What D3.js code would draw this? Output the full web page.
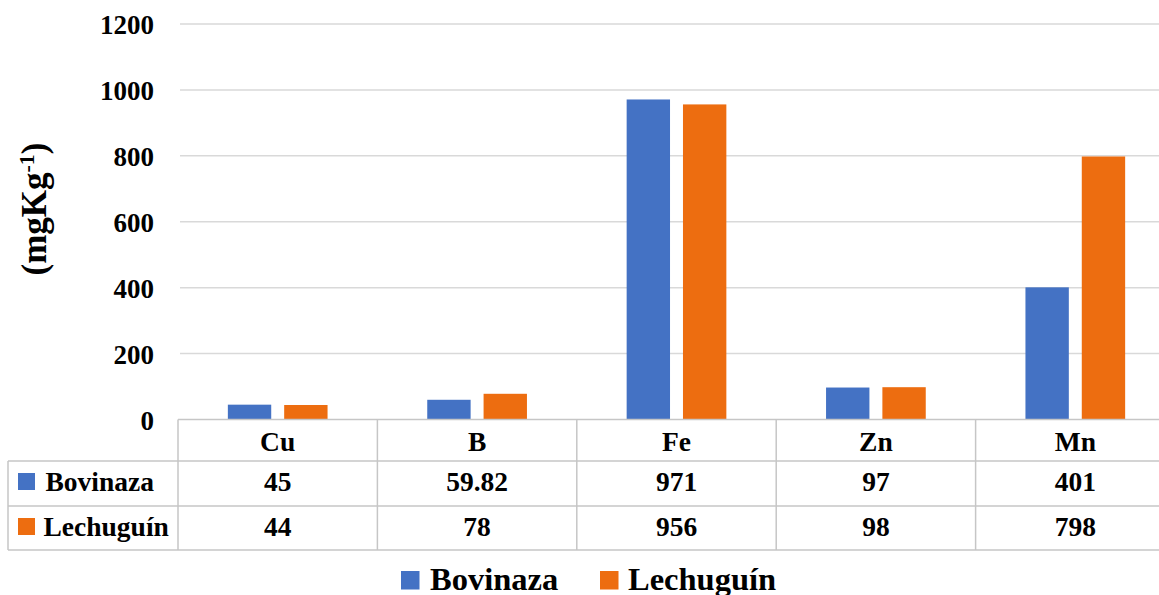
<!DOCTYPE html>
<html>
<head>
<meta charset="utf-8">
<script src="https://cdn.jsdelivr.net/npm/d3@7"></script>
<style>
  html, body { margin: 0; padding: 0; background: #fff; }
  svg { display: block; }
  text { font-family: "Liberation Serif", "Times New Roman", serif; font-weight: bold; fill: #000; }
</style>
</head>
<body>
<svg id="chart" width="1159" height="595"></svg>
<script>
// Micronutrient content (mg/kg) by element
const categories = ["Cu", "B", "Fe", "Zn", "Mn"];
const seriesNames = ["Bovinaza", "Lechuguín"];
const bovinaza = [45, 59.82, 971, 97, 401];
const lechuguin = [44, 78, 956, 98, 798];
const yTicks = [0, 200, 400, 600, 800, 1000, 1200];
const colors = ["#4472C4", "#ED6D10"];

const seriesValues = [bovinaza, lechuguin];

const svg = d3.select("#chart");
const W = 1159;

const plotLeft = 178, plotRight = 1175;
const yTop = 24, yBottom = 419.5;
const tableLeft = 8;
const rowTops = [419.5, 461, 506, 550];

const x0 = d3.scaleBand().domain(categories).range([plotLeft, plotRight]).paddingInner(0).paddingOuter(0);
const bw = x0.bandwidth();
const x1 = d3.scaleBand().domain(seriesNames).range([bw * 0.25, bw * 0.75]).paddingInner(0.23).paddingOuter(0);
const y = d3.scaleLinear().domain([0, 1200]).range([yBottom, yTop]);
const color = d3.scaleOrdinal().domain(seriesNames).range(colors);

// gridlines
svg.append("g")
  .selectAll("line")
  .data(yTicks.filter(d => d > 0))
  .join("line")
  .attr("x1", plotLeft + 2).attr("x2", W)
  .attr("y1", d => y(d)).attr("y2", d => y(d))
  .attr("stroke", "#d9d9d9").attr("stroke-width", 1.5);

// y axis labels
const yAxis = d3.axisLeft(y).tickValues(yTicks).tickSize(0).tickPadding(0).tickFormat(d3.format("d"));
const yg = svg.append("g").attr("transform", "translate(154,0)").call(yAxis);
yg.select(".domain").remove();
yg.selectAll("text")
  .attr("font-size", 27)
  .attr("font-family", "Liberation Serif, serif")
  .attr("font-weight", "bold")
  .attr("fill", "#000")
  .attr("dy", "0.36em");

// y axis title
const title = svg.append("text")
  .attr("transform", "translate(46,209) rotate(-90)")
  .attr("text-anchor", "middle")
  .attr("font-size", 35);
title.append("tspan").text("(mgKg");
title.append("tspan").attr("baseline-shift", "super").attr("font-size", 22).text("-1");
title.append("tspan").text(")");

// bars
const rows = categories.map((c, i) => ({ cat: c, vals: seriesNames.map((s, j) => ({ s, v: seriesValues[j][i] })) }));
svg.append("g")
  .selectAll("g")
  .data(rows)
  .join("g")
  .attr("transform", d => `translate(${x0(d.cat)},0)`)
  .selectAll("rect")
  .data(d => d.vals)
  .join("rect")
  .attr("x", d => x1(d.s))
  .attr("width", x1.bandwidth())
  .attr("y", d => y(d.v))
  .attr("height", d => y(0) - y(d.v))
  .attr("fill", d => color(d.s));

// data table
const border = "#c6c6c6";
const tg = svg.append("g").attr("stroke", border).attr("stroke-width", 1.5);
// horizontal lines
tg.append("line").attr("x1", plotLeft).attr("x2", W).attr("y1", rowTops[0]).attr("y2", rowTops[0]);
[1, 2, 3].forEach(i => {
  tg.append("line").attr("x1", tableLeft).attr("x2", W).attr("y1", rowTops[i]).attr("y2", rowTops[i]);
});
// vertical lines
tg.append("line").attr("x1", tableLeft).attr("x2", tableLeft).attr("y1", rowTops[1]).attr("y2", rowTops[3]);
categories.forEach(c => {
  tg.append("line").attr("x1", x0(c)).attr("x2", x0(c)).attr("y1", rowTops[0]).attr("y2", rowTops[3]);
});

// header row
svg.append("g").selectAll("text")
  .data(categories)
  .join("text")
  .attr("x", d => x0(d) + bw / 2)
  .attr("y", 450.5)
  .attr("text-anchor", "middle")
  .attr("font-size", 27.5)
  .text(d => d);

// value rows
const baselines = [491, 536];
seriesNames.forEach((s, j) => {
  svg.append("g").selectAll("text")
    .data(categories.map((c, i) => ({ c, v: seriesValues[j][i] })))
    .join("text")
    .attr("x", d => x0(d.c) + bw / 2)
    .attr("y", baselines[j])
    .attr("text-anchor", "middle")
    .attr("font-size", 27.5)
    .text(d => d.v);
  // row label with legend key
  svg.append("rect")
    .attr("x", 18).attr("y", baselines[j] - 18)
    .attr("width", 17).attr("height", 17)
    .attr("fill", color(s));
  svg.append("text")
    .attr("x", j === 0 ? 45.5 : 43.5).attr("y", baselines[j])
    .attr("font-size", 27.5)
    .text(s);
});

// legend
const legendPos = [{ sx: 401, tx: 430 }, { sx: 600, tx: 628 }];
seriesNames.forEach((s, j) => {
  svg.append("rect")
    .attr("x", legendPos[j].sx).attr("y", 571)
    .attr("width", 18.5).attr("height", 18.5)
    .attr("fill", color(s));
  svg.append("text")
    .attr("x", legendPos[j].tx).attr("y", 589.5)
    .attr("font-size", 32.5)
    .text(s);
});
</script>
</body>
</html>
